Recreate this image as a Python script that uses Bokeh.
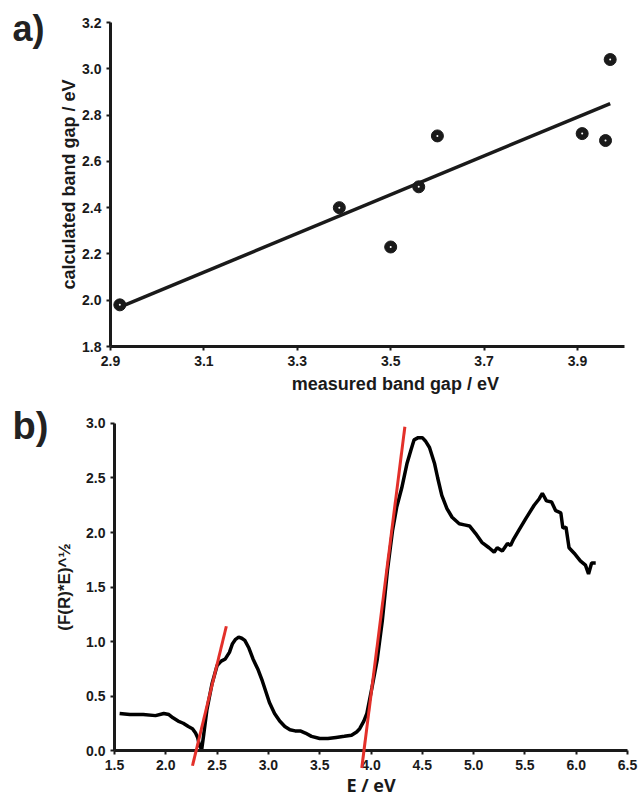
from bokeh.plotting import figure
from bokeh.layouts import column
from bokeh.models import Label, FixedTicker, PrintfTickFormatter, Range1d
from bokeh.embed import file_html
from bokeh.resources import INLINE

# ---- panel a data ----
measured_gap = [2.92, 3.39, 3.50, 3.56, 3.60, 3.91, 3.96, 3.97]
calculated_gap = [1.98, 2.40, 2.23, 2.49, 2.71, 2.72, 2.69, 3.04]
fit_x = [2.92, 3.97]
fit_y = [1.97, 2.85]
a_xticks = [2.9, 3.1, 3.3, 3.5, 3.7, 3.9]
a_yticks = [1.8, 2.0, 2.2, 2.4, 2.6, 2.8, 3.0, 3.2]

# ---- panel b data ----
energy = [1.55, 1.65, 1.78, 1.90, 1.98, 2.03, 2.07, 2.12, 2.17, 2.22, 2.26, 2.29, 2.31,
          2.33, 2.35, 2.37, 2.40, 2.45, 2.50, 2.54, 2.58, 2.62, 2.65, 2.68, 2.71, 2.74,
          2.77, 2.81, 2.85, 2.90, 2.94, 3.01, 3.06, 3.11, 3.16, 3.21, 3.26, 3.31, 3.36,
          3.42, 3.50, 3.58, 3.66, 3.74, 3.81, 3.86, 3.89, 3.93, 3.96, 4.01, 4.06, 4.11,
          4.16, 4.21, 4.25, 4.30, 4.35, 4.39, 4.42, 4.46, 4.50, 4.53, 4.57, 4.62, 4.65,
          4.69, 4.74, 4.79, 4.86, 4.91, 4.96, 5.02, 5.08, 5.15, 5.20, 5.23, 5.28, 5.33,
          5.36, 5.39, 5.44, 5.51, 5.59, 5.64, 5.67, 5.71, 5.76, 5.80, 5.85, 5.87, 5.90,
          5.93, 5.98, 6.04, 6.09, 6.12, 6.15, 6.19]
kubelka = [0.34, 0.33, 0.33, 0.32, 0.34, 0.33, 0.30, 0.27, 0.25, 0.22, 0.20, 0.16, 0.12,
           0.04, 0.01, 0.15, 0.37, 0.61, 0.78, 0.82, 0.84, 0.90, 0.98, 1.02, 1.04, 1.03,
           1.01, 0.94, 0.84, 0.74, 0.64, 0.44, 0.34, 0.27, 0.22, 0.19, 0.18, 0.18, 0.16,
           0.13, 0.11, 0.11, 0.12, 0.13, 0.14, 0.17, 0.20, 0.27, 0.34, 0.58, 0.83, 1.19,
           1.65, 2.02, 2.23, 2.41, 2.63, 2.76, 2.85, 2.87, 2.87, 2.84, 2.78, 2.63, 2.50,
           2.34, 2.22, 2.14, 2.08, 2.07, 2.06, 1.99, 1.91, 1.86, 1.82, 1.86, 1.83, 1.90,
           1.88, 1.94, 2.02, 2.13, 2.25, 2.31, 2.36, 2.29, 2.28, 2.20, 2.18, 2.04, 2.05,
           1.86, 1.81, 1.74, 1.70, 1.62, 1.72, 1.72]
tangent1_x = [2.26, 2.59]
tangent1_y = [-0.14, 1.14]
tangent2_x = [3.91, 4.33]
tangent2_y = [-0.16, 2.97]
b_xticks = [1.5, 2.0, 2.5, 3.0, 3.5, 4.0, 4.5, 5.0, 5.5, 6.0, 6.5]
b_yticks = [0.0, 0.5, 1.0, 1.5, 2.0, 2.5, 3.0]

FONT = "Liberation Sans"
INK = "#1a1a1a"


def style(p, xt, yt, xloc, yloc, xb, yb):
    p.outline_line_color = None
    p.xgrid.visible = False
    p.ygrid.visible = False
    p.background_fill_color = "white"
    p.border_fill_color = "white"
    p.xaxis.ticker = FixedTicker(ticks=xt)
    p.yaxis.ticker = FixedTicker(ticks=yt)
    p.xaxis.fixed_location = xloc
    p.yaxis.fixed_location = yloc
    p.xaxis.bounds = xb
    p.yaxis.bounds = yb
    for ax in (p.xaxis[0], p.yaxis[0]):
        ax.formatter = PrintfTickFormatter(format="%.1f")
        ax.axis_line_width = 3
        ax.axis_line_color = INK
        ax.major_tick_line_width = 2
        ax.major_tick_line_color = INK
        ax.major_tick_out = 4
        ax.major_tick_in = 0
        ax.minor_tick_line_color = None
        ax.major_label_text_font = FONT
        ax.major_label_text_font_style = "bold"
        ax.major_label_text_font_size = "14px"
        ax.major_label_text_color = INK
        ax.major_label_standoff = 5
        ax.axis_label_text_font = FONT
        ax.axis_label_text_font_style = "bold"
        ax.axis_label_text_font_size = "18px"
        ax.axis_label_text_color = INK
        ax.axis_label_standoff = 6


# ---------------- panel a ----------------
pa = figure(width=638, height=396, x_range=Range1d(2.6645, 4.0306),
            y_range=Range1d(1.584, 3.2951), title=None,
            output_backend="svg", toolbar_location=None,
            min_border=0, min_border_left=0, min_border_right=0,
            min_border_top=0, min_border_bottom=0)
style(pa, a_xticks, a_yticks, 1.8, 2.9, (2.9, 4.0), (1.8, 3.2))
pa.yaxis.axis_label = "calculated band gap / eV"
pa.yaxis.axis_label_standoff = 0

pa.line(fit_x, fit_y, line_color=INK, line_width=3.5)
pa.scatter(measured_gap, calculated_gap, size=12, fill_color=INK, line_color=INK)
pa.scatter(measured_gap, calculated_gap, size=2, fill_color="white", line_color=None)

pa.add_layout(Label(x=3.51, y=1.8, y_offset=-37, text="measured band gap / eV",
                    text_font=FONT, text_font_style="bold", text_font_size="18px",
                    text_color=INK, text_baseline="middle", text_align="center"))
pa.add_layout(Label(x=2.9, y=3.2, x_offset=-98, y_offset=-6, text="a)",
                    text_font=FONT, text_font_style="bold", text_font_size="36px",
                    text_color="#222222", text_baseline="alphabetic", text_align="left"))

# ---------------- panel b ----------------
pb = figure(width=638, height=400, x_range=Range1d(0.389, 6.607),
            y_range=Range1d(-0.422, 3.2477), title=None,
            output_backend="svg", toolbar_location=None,
            min_border=0, min_border_left=0, min_border_right=0,
            min_border_top=0, min_border_bottom=0)
style(pb, b_xticks, b_yticks, 0.0, 1.5, (1.5, 6.5), (0.0, 3.0))
pb.xaxis.axis_label = "E / eV"
pb.xaxis.axis_label_text_font = "Open Sans"
pb.xaxis.axis_label_text_font_size = "18px"
pb.xaxis.axis_label_standoff = 0
pb.yaxis.axis_label = "(F(R)*E)^½"
pb.yaxis.axis_label_text_font_size = "17px"
pb.yaxis.axis_label_standoff = 9

pb.line(energy, kubelka, line_color="black", line_width=3.5)
for tx, ty in ((tangent1_x, tangent1_y), (tangent2_x, tangent2_y)):
    r = pb.line(tx, ty, line_color="#e3302a", line_width=3)
    r.level = "overlay"

pb.add_layout(Label(x=1.5, y=3.0, x_offset=-102, y_offset=-3, text="b)",
                    text_font=FONT, text_font_style="bold", text_font_size="38px",
                    text_color="#222222", text_baseline="alphabetic", text_align="left"))

layout = column(pa, pb, spacing=0)
open("out.html", "w").write(file_html(layout, INLINE))
